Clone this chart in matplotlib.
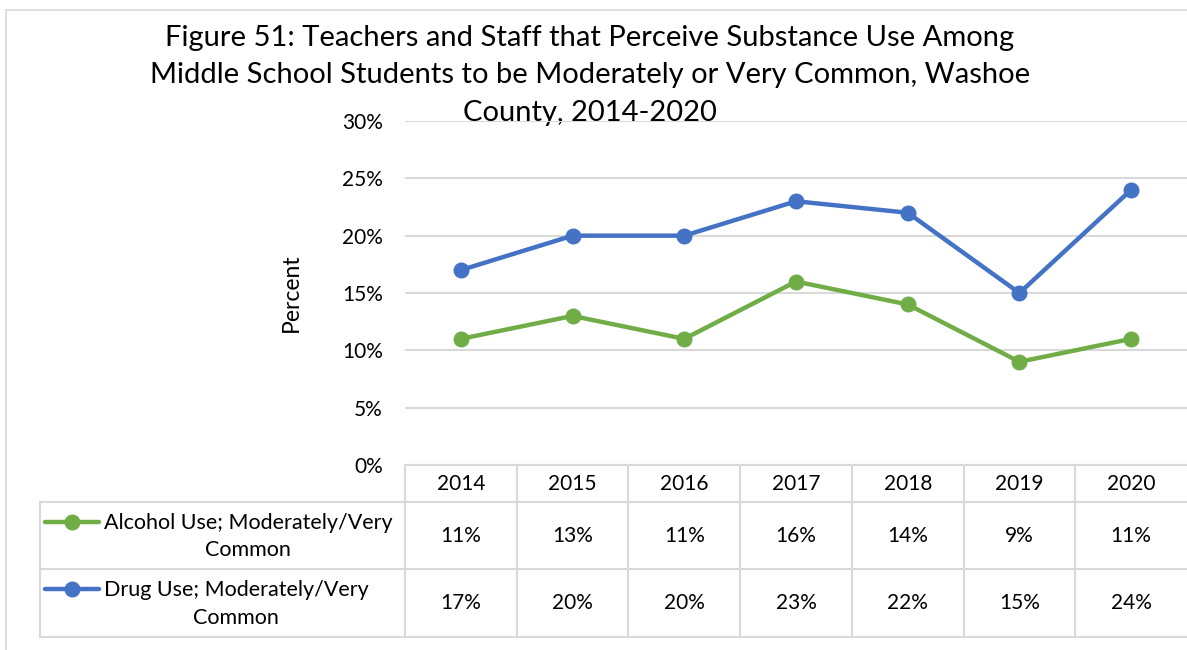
import matplotlib.pyplot as plt
import matplotlib.transforms as mtransforms
from matplotlib.lines import Line2D

plt.rcParams['font.family'] = ['Lato', 'DejaVu Sans']

# Datos
years = ['2014', '2015', '2016', '2017', '2018', '2019', '2020']
alcohol = [11, 13, 11, 16, 14, 9, 11]
drugs = [17, 20, 20, 23, 22, 15, 24]
series_names = ['Alcohol Use; Moderately/Very\nCommon', 'Drug Use; Moderately/Very\nCommon']
series_colors = ['#70AD47', '#4472C4']
yticks = [0, 5, 10, 15, 20, 25, 30]
title_lines = ['Figure 51: Teachers and Staff that Perceive Substance Use Among',
               'Middle School Students to be Moderately or Very Common, Washoe',
               'County, 2014-2020']

W, H = 1187, 650
fig = plt.figure(figsize=(W / 100, H / 100), dpi=100)

# capa en pixeles para marco y tabla
ov = fig.add_axes([0, 0, 1, 1], zorder=0)
ov.set_xlim(0, W)
ov.set_ylim(H, 0)
ov.axis('off')

# area de grafico
left, right, top, bottom = 405, 1187, 121, 465
ax = fig.add_axes([left / W, 1 - bottom / H, (right - left) / W, (bottom - top) / H], zorder=1)
ax.patch.set_alpha(0)
x = range(len(years))
for vals, c in zip([alcohol, drugs], series_colors):
    ax.plot(x, vals, color=c, lw=3.2, marker='o', ms=10.5, solid_capstyle='round')
ax.set_xlim(-0.5, len(years) - 0.5)
ax.set_ylim(0, 30)
ax.set_yticks(yticks)
ax.set_yticklabels([f'{v}%' for v in yticks], fontsize=15)
ax.set_xticks([])
ax.tick_params(axis='y', length=0, pad=16)
ax.grid(axis='y', color='#D9D9D9', lw=1.5)
ax.set_axisbelow(True)
for s in ax.spines.values():
    s.set_visible(False)
ax.set_ylabel('Percent', fontsize=16.5, labelpad=29)

# titulo, una linea por texto
for k, line in enumerate(title_lines):
    ov.text(590, 38 + 37.5 * k, line, ha='center', va='center', fontsize=21)

# marco del grafico
gc = '#D9D9D9'
ov.plot([6, 6], [10, H], color=gc, lw=1.2)
ov.plot([6, W], [10, 10], color=gc, lw=1.2)

# tabla de datos
tr = mtransforms.blended_transform_factory(ax.transData, ov.transData)
row_y = [465, 502, 569, 637]
edges = [i - 0.5 for i in range(len(years) + 1)]
ov.plot([left, W], [row_y[0], row_y[0]], color=gc, lw=1.5)
for yy in row_y[1:]:
    ov.plot([40, W], [yy, yy], color=gc, lw=1.5)
ov.plot([40, 40], [row_y[1], row_y[3]], color=gc, lw=1.5)
for e in edges[:-1]:
    ov.add_line(Line2D([e, e], [row_y[0], row_y[3]], color=gc, lw=1.5, transform=tr))
for i, yr in enumerate(years):
    ov.text(i, 484, yr, transform=tr, ha='center', va='center', fontsize=15)
for r, (vals, name, c) in enumerate(zip([alcohol, drugs], series_names, series_colors)):
    yc = (row_y[r + 1] + row_y[r + 2]) / 2
    for i, v in enumerate(vals):
        ov.text(i, yc, f'{v}%', transform=tr, ha='center', va='center', fontsize=15)
    ly = row_y[r + 1] + 20
    ov.plot([45, 99], [ly, ly], color=c, lw=3.2, solid_capstyle='round')
    ov.plot([72], [ly], marker='o', color=c, ms=10.5)
    ov.text(104, yc + 1, name, ha='left', va='center', multialignment='center',
            fontsize=15.5, linespacing=1.45)

fig.savefig('out.png', dpi=100)
